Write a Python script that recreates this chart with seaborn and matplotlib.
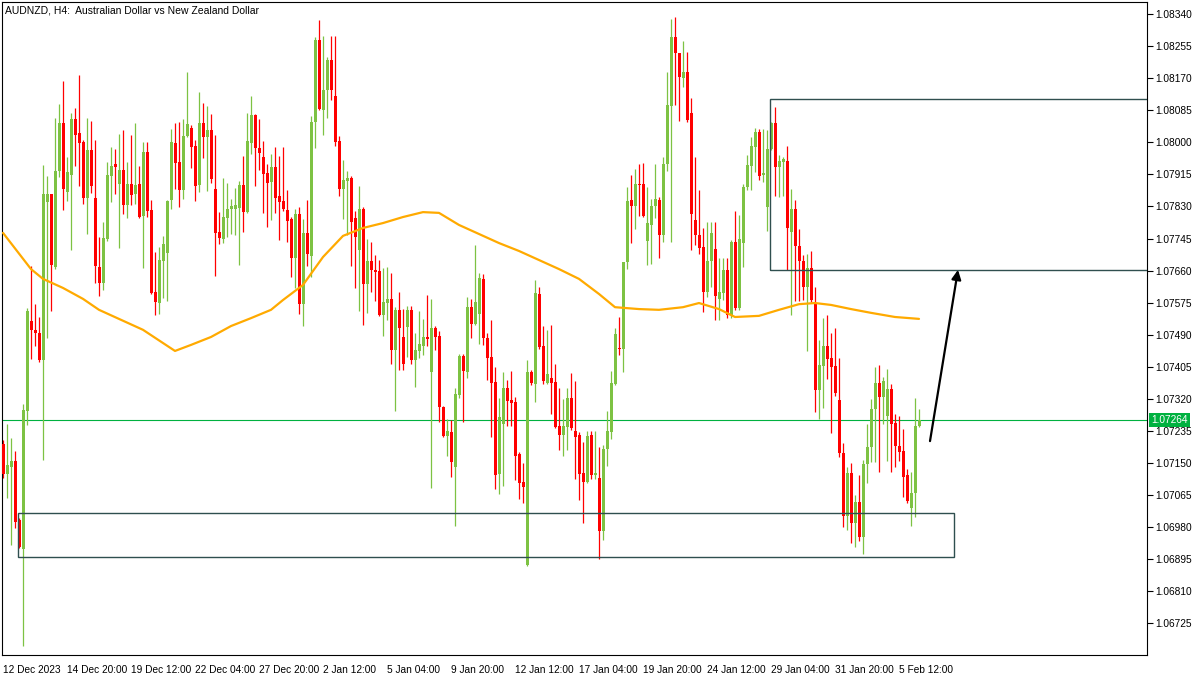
import numpy as np
import pandas as pd
import matplotlib
matplotlib.use('Agg')
import matplotlib.pyplot as plt
from matplotlib.patches import Rectangle
import seaborn as sns

sns.set_style('white')
plt.rcParams['font.family'] = ['Liberation Sans', 'DejaVu Sans']

title = 'AUDNZD, H4:  Australian Dollar vs New Zealand Dollar'

# H4 candles
opens = [
    1.07200, 1.07121, 1.07139, 1.07155, 1.06999, 1.06922, 1.07288, 1.07526, 1.07503, 1.07495,
    1.07423, 1.07842, 1.07863, 1.07669, 1.07924, 1.08051, 1.07868, 1.07913, 1.08062, 1.08025,
    1.08001, 1.07852, 1.07980, 1.07852, 1.07669, 1.07627, 1.07744, 1.07911, 1.07942, 1.07889,
    1.07927, 1.07834, 1.07889, 1.07863, 1.07889, 1.07805, 1.07974, 1.07821, 1.07603, 1.07574,
    1.07685, 1.07707, 1.07847, 1.07998, 1.07948, 1.07874, 1.08017, 1.08038, 1.07990, 1.07887,
    1.08051, 1.08014, 1.08033, 1.07876, 1.07762, 1.07744, 1.07799, 1.07823, 1.07823, 1.07826,
    1.07887, 1.07815, 1.07998, 1.08072, 1.07985, 1.07961, 1.07919, 1.07895, 1.07934, 1.07858,
    1.07844, 1.07821, 1.07797, 1.07693, 1.07810, 1.07571, 1.07760, 1.07699, 1.08054, 1.08271,
    1.08086, 1.08139, 1.08218, 1.08123, 1.08003, 1.07876, 1.07897, 1.07905, 1.07799, 1.07715,
    1.07823, 1.07624, 1.07685, 1.07662, 1.07659, 1.07542, 1.07574, 1.07585, 1.07450, 1.07556,
    1.07484, 1.07510, 1.07556, 1.07423, 1.07447, 1.07460, 1.07484, 1.07391, 1.07508, 1.07487,
    1.07298, 1.07222, 1.07232, 1.07139, 1.07330, 1.07434, 1.07391, 1.07563, 1.07518, 1.07545,
    1.07638, 1.07481, 1.07431, 1.07365, 1.07121, 1.07253, 1.07349, 1.07317, 1.07312, 1.07174,
    1.07100, 1.06880, 1.07391, 1.07359, 1.07598, 1.07460, 1.07362, 1.07375, 1.07365, 1.07248,
    1.07224, 1.07245, 1.07322, 1.07235, 1.07224, 1.07124, 1.07100, 1.07224, 1.07118, 1.07110,
    1.06970, 1.07187, 1.07232, 1.07359, 1.07455, 1.07452, 1.07683, 1.07847, 1.07831, 1.07889,
    1.07889, 1.07738, 1.07781, 1.07831, 1.07847, 1.07754, 1.07942, 1.08096, 1.08279, 1.08237,
    1.08170, 1.08186, 1.08078, 1.07794, 1.07754, 1.07722, 1.07603, 1.07685, 1.07717, 1.07585,
    1.07601, 1.07662, 1.07542, 1.07736, 1.07561, 1.07733, 1.07881, 1.07937, 1.07987, 1.08027,
    1.07913, 1.07828, 1.07982, 1.08051, 1.07934, 1.07948, 1.07950, 1.07762, 1.07823, 1.07725,
    1.07685, 1.07616, 1.07667, 1.07574, 1.07344, 1.07407, 1.07460, 1.07428, 1.07407, 1.07317,
    1.07177, 1.07010, 1.07124, 1.06991, 1.07047, 1.06954, 1.07147, 1.07192, 1.07293, 1.07362,
    1.07325, 1.07275, 1.07346, 1.07256, 1.07195, 1.07182, 1.07118, 1.07031, 1.07071, 1.07248,
]
highs = [
    1.07211, 1.07253, 1.07216, 1.07182, 1.07004, 1.07306, 1.07561, 1.07672, 1.07571, 1.07537,
    1.07940, 1.07911, 1.07863, 1.08064, 1.08101, 1.08162, 1.07961, 1.08078, 1.08091, 1.08178,
    1.08006, 1.08064, 1.08056, 1.08006, 1.07749, 1.07789, 1.07948, 1.07987, 1.07982, 1.08022,
    1.08033, 1.07948, 1.08019, 1.08051, 1.07937, 1.08001, 1.08001, 1.07847, 1.07709, 1.07722,
    1.07752, 1.07847, 1.08035, 1.08051, 1.08054, 1.08062, 1.08186, 1.08046, 1.08006, 1.08133,
    1.08104, 1.08096, 1.08075, 1.08019, 1.07815, 1.07905, 1.07892, 1.07850, 1.07879, 1.07897,
    1.07964, 1.08078, 1.08123, 1.08075, 1.08062, 1.08003, 1.07942, 1.07969, 1.07987, 1.07964,
    1.07987, 1.07874, 1.07802, 1.07823, 1.07828, 1.07797, 1.07847, 1.08070, 1.08279, 1.08324,
    1.08282, 1.08226, 1.08282, 1.08282, 1.08017, 1.07953, 1.07924, 1.07911, 1.07818, 1.07884,
    1.07828, 1.07744, 1.07736, 1.07701, 1.07688, 1.07667, 1.07669, 1.07654, 1.07563, 1.07603,
    1.07558, 1.07566, 1.07566, 1.07495, 1.07553, 1.07532, 1.07595, 1.07585, 1.07513, 1.07500,
    1.07301, 1.07267, 1.07264, 1.07349, 1.07439, 1.07439, 1.07590, 1.07585, 1.07728, 1.07654,
    1.07651, 1.07495, 1.07529, 1.07404, 1.07322, 1.07391, 1.07370, 1.07394, 1.07325, 1.07179,
    1.07150, 1.07423, 1.07397, 1.07635, 1.07616, 1.07513, 1.07503, 1.07516, 1.07412, 1.07349,
    1.07320, 1.07349, 1.07389, 1.07367, 1.07232, 1.07206, 1.07235, 1.07235, 1.07235, 1.07192,
    1.07198, 1.07288, 1.07394, 1.07508, 1.07537, 1.07683, 1.07881, 1.07913, 1.07929, 1.07942,
    1.07945, 1.07881, 1.07850, 1.07942, 1.07855, 1.07961, 1.08186, 1.08327, 1.08332, 1.08237,
    1.08268, 1.08239, 1.08117, 1.07961, 1.07874, 1.07773, 1.07789, 1.07789, 1.07789, 1.07693,
    1.07693, 1.07693, 1.07741, 1.07818, 1.07807, 1.07889, 1.07966, 1.08014, 1.08038, 1.08035,
    1.08035, 1.08033, 1.08054, 1.08093, 1.07966, 1.07961, 1.07990, 1.07876, 1.07847, 1.07770,
    1.07701, 1.07704, 1.07712, 1.07616, 1.07476, 1.07534, 1.07542, 1.07495, 1.07508, 1.07428,
    1.07203, 1.07139, 1.07150, 1.07065, 1.07118, 1.07158, 1.07253, 1.07320, 1.07404, 1.07410,
    1.07378, 1.07399, 1.07359, 1.07280, 1.07275, 1.07240, 1.07134, 1.07126, 1.07322, 1.07293,
]
lows = [
    1.07110, 1.07057, 1.06933, 1.06978, 1.06925, 1.06665, 1.07251, 1.07426, 1.07460, 1.07418,
    1.07158, 1.07481, 1.07553, 1.07664, 1.07908, 1.07821, 1.07844, 1.07715, 1.07937, 1.07884,
    1.07836, 1.07757, 1.07866, 1.07627, 1.07593, 1.07609, 1.07738, 1.07842, 1.07863, 1.07720,
    1.07810, 1.07799, 1.07834, 1.07836, 1.07799, 1.07667, 1.07802, 1.07598, 1.07542, 1.07545,
    1.07587, 1.07579, 1.07823, 1.07876, 1.07828, 1.07850, 1.08014, 1.07932, 1.07844, 1.07868,
    1.07958, 1.07871, 1.07892, 1.07646, 1.07730, 1.07733, 1.07749, 1.07757, 1.07754, 1.07675,
    1.07762, 1.07813, 1.07969, 1.07884, 1.07927, 1.07813, 1.07775, 1.07794, 1.07813, 1.07741,
    1.07818, 1.07736, 1.07643, 1.07614, 1.07545, 1.07513, 1.07672, 1.07643, 1.07985, 1.08086,
    1.08019, 1.08064, 1.08112, 1.07990, 1.07858, 1.07797, 1.07754, 1.07672, 1.07614, 1.07553,
    1.07516, 1.07548, 1.07603, 1.07579, 1.07540, 1.07487, 1.07529, 1.07412, 1.07288, 1.07397,
    1.07397, 1.07431, 1.07412, 1.07351, 1.07428, 1.07436, 1.07460, 1.07084, 1.07450, 1.07259,
    1.07219, 1.07169, 1.07113, 1.06983, 1.07322, 1.07259, 1.07375, 1.07481, 1.07516, 1.07465,
    1.07463, 1.07370, 1.07219, 1.07081, 1.07068, 1.07089, 1.07248, 1.07248, 1.07105, 1.07055,
    1.07044, 1.06877, 1.07357, 1.07312, 1.07452, 1.07359, 1.07359, 1.07280, 1.07243, 1.07185,
    1.07169, 1.07185, 1.07238, 1.07108, 1.07052, 1.06991, 1.07097, 1.07108, 1.07108, 1.06896,
    1.06946, 1.07142, 1.07214, 1.07357, 1.07436, 1.07391, 1.07664, 1.07733, 1.07770, 1.07805,
    1.07802, 1.07675, 1.07677, 1.07799, 1.07693, 1.07736, 1.07924, 1.07736, 1.08099, 1.08056,
    1.08146, 1.08054, 1.07715, 1.07728, 1.07704, 1.07550, 1.07590, 1.07616, 1.07529, 1.07529,
    1.07582, 1.07534, 1.07534, 1.07556, 1.07556, 1.07669, 1.07874, 1.07874, 1.07921, 1.07900,
    1.07895, 1.07765, 1.07980, 1.07858, 1.07855, 1.07858, 1.07662, 1.07542, 1.07579, 1.07579,
    1.07582, 1.07447, 1.07577, 1.07285, 1.07267, 1.07296, 1.07373, 1.07230, 1.07328, 1.07166,
    1.06980, 1.06973, 1.06938, 1.06927, 1.06943, 1.06909, 1.07097, 1.07153, 1.07153, 1.07126,
    1.07253, 1.07155, 1.07126, 1.07139, 1.07155, 1.07060, 1.07044, 1.06983, 1.07007, 1.07245,
]
closes = [
    1.07121, 1.07145, 1.07155, 1.06994, 1.06927, 1.07291, 1.07553, 1.07503, 1.07495, 1.07423,
    1.07863, 1.07863, 1.07675, 1.07924, 1.08051, 1.07876, 1.07921, 1.08062, 1.08019, 1.07998,
    1.07852, 1.07980, 1.07884, 1.07672, 1.07627, 1.07746, 1.07913, 1.07937, 1.07934, 1.07927,
    1.07834, 1.07889, 1.07860, 1.07887, 1.07802, 1.07974, 1.07818, 1.07601, 1.07577, 1.07688,
    1.07730, 1.07844, 1.08001, 1.07945, 1.07874, 1.08017, 1.08048, 1.07987, 1.07884, 1.08051,
    1.08014, 1.08033, 1.07903, 1.07760, 1.07746, 1.07802, 1.07823, 1.07831, 1.07834, 1.07887,
    1.07815, 1.08003, 1.08072, 1.07985, 1.07972, 1.07916, 1.07892, 1.07934, 1.07852, 1.07842,
    1.07823, 1.07791, 1.07693, 1.07810, 1.07571, 1.07760, 1.07704, 1.08054, 1.08271, 1.08088,
    1.08139, 1.08218, 1.08139, 1.08001, 1.07876, 1.07900, 1.07905, 1.07789, 1.07749, 1.07823,
    1.07624, 1.07685, 1.07662, 1.07656, 1.07542, 1.07577, 1.07585, 1.07450, 1.07556, 1.07508,
    1.07412, 1.07556, 1.07423, 1.07450, 1.07465, 1.07484, 1.07479, 1.07508, 1.07484, 1.07298,
    1.07222, 1.07235, 1.07153, 1.07333, 1.07434, 1.07394, 1.07563, 1.07518, 1.07577, 1.07640,
    1.07481, 1.07428, 1.07362, 1.07118, 1.07272, 1.07349, 1.07314, 1.07309, 1.07169, 1.07097,
    1.07086, 1.07391, 1.07362, 1.07601, 1.07457, 1.07367, 1.07386, 1.07362, 1.07245, 1.07224,
    1.07248, 1.07322, 1.07243, 1.07219, 1.07121, 1.07100, 1.07222, 1.07118, 1.07124, 1.06970,
    1.07187, 1.07235, 1.07362, 1.07492, 1.07452, 1.07683, 1.07844, 1.07831, 1.07889, 1.07887,
    1.07805, 1.07786, 1.07831, 1.07850, 1.07754, 1.07942, 1.08099, 1.08279, 1.08237, 1.08173,
    1.08186, 1.08059, 1.07810, 1.07754, 1.07720, 1.07603, 1.07685, 1.07760, 1.07593, 1.07603,
    1.07662, 1.07542, 1.07736, 1.07561, 1.07744, 1.07881, 1.07940, 1.07990, 1.08027, 1.07911,
    1.07919, 1.07982, 1.08051, 1.07934, 1.07950, 1.07956, 1.07773, 1.07823, 1.07725, 1.07685,
    1.07616, 1.07667, 1.07582, 1.07344, 1.07410, 1.07460, 1.07426, 1.07404, 1.07336, 1.07177,
    1.07010, 1.07124, 1.06991, 1.07047, 1.06954, 1.07147, 1.07192, 1.07293, 1.07362, 1.07325,
    1.07367, 1.07346, 1.07253, 1.07195, 1.07179, 1.07113, 1.07049, 1.07071, 1.07248, 1.07264,
]

# moving average, read at some bars
ma_bar = [0, 7, 10, 15, 20, 24, 35, 43, 47, 52, 57, 62, 67, 70, 75, 80, 85, 90, 95, 100,
          105, 109, 114, 119, 124, 129, 134, 139, 144, 149, 153, 159, 164, 170, 174, 179,
          183, 189, 194, 199, 203, 207, 212, 217, 223, 229]
ma_vals = [1.07760, 1.07664, 1.07638, 1.07614, 1.07585, 1.07556, 1.07503, 1.07447, 1.07463,
           1.07484, 1.07513, 1.07534, 1.07556, 1.07582, 1.07622, 1.07696, 1.07752, 1.07773,
           1.07786, 1.07802, 1.07815, 1.07813, 1.07781, 1.07757, 1.07733, 1.07712, 1.07688,
           1.07664, 1.07638, 1.07598, 1.07563, 1.07558, 1.07556, 1.07563, 1.07574, 1.07558,
           1.07537, 1.07540, 1.07556, 1.07571, 1.07574, 1.07569, 1.07558, 1.07548, 1.07537,
           1.07532]

bid = 1.07264
price_ticks = [1.06725, 1.06810, 1.06895, 1.06980, 1.07065, 1.07150, 1.07235, 1.07320,
               1.07405, 1.07490, 1.07575, 1.07660, 1.07745, 1.07830, 1.07915, 1.08000,
               1.08085, 1.08170, 1.08255, 1.08340]
date_bar = [0, 16, 32, 48, 64, 80, 96, 112, 128, 144, 160, 176, 192, 208, 224]
date_labels = ['12 Dec 2023', '14 Dec 20:00', '19 Dec 12:00', '22 Dec 04:00', '27 Dec 20:00',
               '2 Jan 12:00', '5 Jan 04:00', '9 Jan 20:00', '12 Jan 12:00', '17 Jan 04:00',
               '19 Jan 20:00', '24 Jan 12:00', '29 Jan 04:00', '31 Jan 20:00', '5 Feb 12:00']

# zones drawn on the chart (bar index, price)
resist_zone = (191.75, 1.07662, 1.08115)
support_zone = (3.75, 237.75, 1.06902, 1.07018)
arrow_from = (231.75, 1.07208)
arrow_to = (238.75, 1.07662)

df = pd.DataFrame({'o': opens, 'h': highs, 'l': lows, 'c': closes})
df['i'] = np.arange(len(df))
up = df.c >= df.o

green = '#7DC243'
red = '#FF0000'

fig = plt.figure(figsize=(12, 6.75), dpi=100)
ax = fig.add_axes([2 / 1200, 20 / 675, 1145 / 1200, 653 / 675])

for mask, col in ((up, green), (~up, red)):
    d = df[mask]
    ax.vlines(d.i, d.l, d.h, color=col, lw=0.9, zorder=2)
    ax.bar(d.i, (d.c - d.o).abs().clip(lower=0.00003), bottom=np.minimum(d.o, d.c),
           width=0.75, color=col, linewidth=0, zorder=3)

sns.lineplot(x=ma_bar, y=ma_vals, ax=ax, color='#FFAA00', linewidth=1.6, zorder=4)

ax.axhline(bid, color='#00B140', lw=0.8, zorder=1)

ax.add_patch(Rectangle((resist_zone[0], resist_zone[1]), 300 - resist_zone[0],
                       resist_zone[2] - resist_zone[1], fill=False, ec='#2F4F4F', lw=1, zorder=5))
ax.add_patch(Rectangle((support_zone[0], support_zone[2]), support_zone[1] - support_zone[0],
                       support_zone[3] - support_zone[2], fill=False, ec='#2F4F4F', lw=1, zorder=5))
ax.annotate('', xy=arrow_to, xytext=arrow_from,
            arrowprops=dict(arrowstyle='-|>', color='black', lw=1.6, mutation_scale=14,
                            shrinkA=0, shrinkB=0), zorder=6)

ax.set_xlim(-0.25, 286)
ax.set_ylim(1.06641, 1.08372)

ax.yaxis.tick_right()
ax.set_yticks(price_ticks)
ax.set_yticklabels(['%.5f' % p for p in price_ticks])
ax.set_xticks(date_bar)
ax.set_xticklabels(date_labels, ha='left')
ax.tick_params(axis='both', direction='out', length=4, width=0.8, labelsize=7.3,
               colors='black', pad=2)
ax.tick_params(axis='x', pad=3)
ax.set_xlabel('')
ax.set_ylabel('')
for s in ax.spines.values():
    s.set_color('black')
    s.set_linewidth(0.8)

ax.text(0.003, 0.995, title, transform=ax.transAxes, va='top', ha='left', fontsize=7.5,
        color='black')
ax.annotate('%.5f' % bid, xy=(1, bid), xycoords=('axes fraction', 'data'),
            xytext=(3, 0), textcoords='offset points', va='center', ha='left',
            color='white', fontsize=7.3,
            bbox=dict(boxstyle='square,pad=0.2', fc='#00B140', ec='none'), annotation_clip=False)

fig.savefig('out.png', dpi=100)
